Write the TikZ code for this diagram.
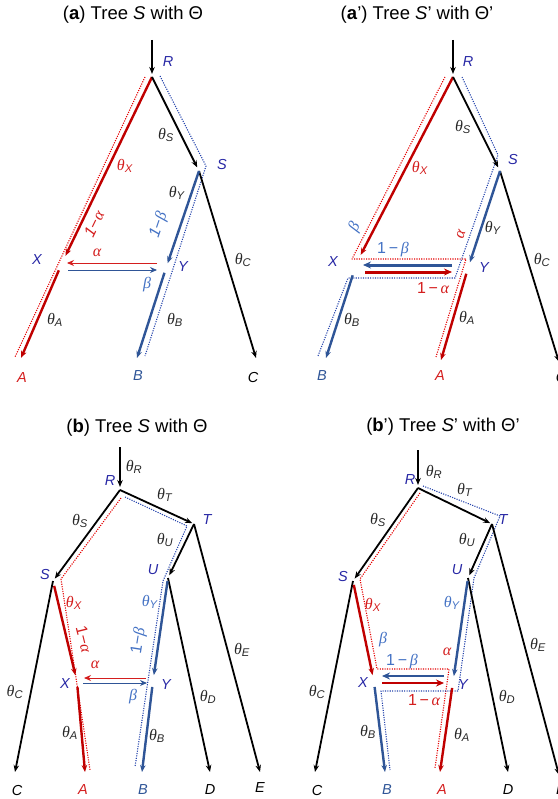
\documentclass[tikz,border=0pt]{standalone}
\usepackage{fontspec}
\setmainfont{Liberation Sans}
\newfontfamily\greekfont{Liberation Serif}
\usetikzlibrary{arrows.meta}
\definecolor{TreeRed}{RGB}{192,0,0}
\definecolor{TreeBlue}{RGB}{47,85,151}
\definecolor{NameBlue}{RGB}{40,40,165}
\definecolor{ParBlue}{RGB}{68,114,196}
\definecolor{ParRed}{RGB}{212,30,30}
\definecolor{TextGray}{RGB}{40,40,40}
\newcommand{\gk}[1]{{\greekfont\itshape #1}}
\newcommand{\thsub}[1]{\gk{θ}\textsubscript{\textit{#1}}}

\begin{document}
\begin{tikzpicture}[x=1pt, y=-1pt, font=\fontsize{16}{18}\selectfont]
    \tikzset{
        branch/.style={line width=1.8pt, -{Stealth[length=7pt,width=5.5pt]}},
        redbranch/.style={branch, TreeRed, line width=2.4pt},
        bluebranch/.style={branch, TreeBlue, line width=2.4pt},
        redpath/.style={red!90!black, line width=1.1pt, line join=round,
            dash pattern=on 1.1pt off 1.3pt},
        bluepath/.style={TreeBlue!80!blue, line width=1.1pt, line join=round,
            dash pattern=on 1.1pt off 1.3pt},
        flow/.style={line width=0.9pt, -{Stealth[length=7pt,width=6pt]}},
        bigflow/.style={line width=3pt, -{Stealth[length=8pt,width=7pt]}},
        heading/.style={font=\fontsize{18.5}{20}\selectfont},
        taxon/.style={font=\fontsize{14.5}{16}\selectfont\itshape, text=NameBlue},
        param/.style={text=TextGray, inner sep=1pt}
    }
    \useasboundingbox (0,0) rectangle (557,799);

    \coordinate (aR0) at (152,40);
    \coordinate (aR) at (152,77);
    \coordinate (aS) at (199,171);
    \coordinate (aX) at (62,263);
    \coordinate (aY) at (166,268);
    \coordinate (aA) at (21,358);
    \coordinate (aB) at (137,358);
    \coordinate (aC) at (256,358);
    \coordinate (aRd1) at (145,77);
    \coordinate (aRd2) at (15,357);
    \coordinate (aBd1) at (160,76);
    \coordinate (aBd2) at (206,166);
    \coordinate (aBd3) at (145,356);
    \coordinate (aF1) at (157,263);
    \coordinate (aF2) at (67,263);
    \coordinate (aF3) at (68,270);
    \coordinate (aF4) at (157,270);
    \draw[redpath] (aRd1) -- (aRd2);
    \draw[bluepath] (aBd1) -- (aBd2) -- (aBd3);
    \draw[branch, shorten >=3pt] (aR0) -- (aR);
    \draw[redbranch, shorten >=8pt] (aR) -- (aX);
    \draw[redbranch, shorten <=8pt] (aX) -- (aA);
    \draw[branch, shorten >=4pt] (aR) -- (aS);
    \draw[branch] (aS) -- (aC);
    \draw[bluebranch, shorten >=5pt] (aS) -- (aY);
    \draw[bluebranch, shorten <=5pt] (aY) -- (aB);
    \draw[flow, ParRed] (aF1) -- (aF2);
    \draw[flow, TreeBlue] (aF3) -- (aF4);
    \node[heading] (atitle) at (133,15) {(\textbf{a}) Tree \textit{S} with Θ};
    \node[taxon] (aRn) at (168,62) {R};
    \node[taxon] (aSn) at (222,165) {S};
    \node[taxon] (aXn) at (37,260) {X};
    \node[taxon] (aYn) at (183,267) {Y};
    \node[taxon, text=ParRed] (aAn) at (22,378) {A};
    \node[taxon, text=TreeBlue] (aBn) at (138,376) {B};
    \node[taxon, text=black] (aCn) at (253,378) {C};
    \node[param] (athS) at (166,135) {\thsub{S}};
    \node[param, text=ParRed] (athX) at (125,166) {\thsub{X}};
    \node[param] (athY) at (177,193) {\thsub{Y}};
    \node[param] (athC) at (243,260) {\thsub{C}};
    \node[param] (athA) at (55,320) {\thsub{A}};
    \node[param] (athB) at (175,320) {\thsub{B}};
    \node[text=ParRed, rotate=64, inner sep=0pt] (aalf1) at (94,224) {\textit{1}−\gk{α}};
    \node[text=ParBlue, rotate=71, inner sep=0pt] (abet1) at (159,225) {\textit{1}−\gk{β}};
    \node[text=ParRed] (aalf) at (97,253) {\gk{α}};
    \node[text=ParBlue] (abet) at (147,285) {\gk{β}};

    \coordinate (pR0) at (453,40);
    \coordinate (pR) at (453,77);
    \coordinate (pS) at (500,171);
    \coordinate (pX) at (357,262);
    \coordinate (pY) at (468,268);
    \coordinate (pB) at (326,358);
    \coordinate (pA) at (441,360);
    \coordinate (pC) at (559,362);
    \coordinate (pRd1) at (445,77);
    \coordinate (pRd2) at (352,259);
    \coordinate (pRd3) at (466,259);
    \coordinate (pRd4) at (436,357);
    \coordinate (pBd1) at (462,77);
    \coordinate (pBd2) at (498,155);
    \coordinate (pBd3) at (455,278);
    \coordinate (pBd4) at (348,278);
    \coordinate (pBd5) at (318,356);
    \coordinate (pF1) at (452,265);
    \coordinate (pF2) at (363,265);
    \coordinate (pF3) at (365,272);
    \coordinate (pF4) at (452,272);
    \draw[redpath] (pRd1) -- (pRd2) -- (pRd3) -- (pRd4);
    \draw[bluepath] (pBd1) -- (pBd2) -- (pBd3) -- (pBd4) -- (pBd5);
    \draw[branch, shorten >=3pt] (pR0) -- (pR);
    \draw[redbranch, shorten >=8pt] (pR) -- (pX);
    \draw[bluebranch, shorten <=14pt] (pX) -- (pB);
    \draw[branch, shorten >=4pt] (pR) -- (pS);
    \draw[branch] (pS) -- (pC);
    \draw[bluebranch, shorten >=6pt] (pS) -- (pY);
    \draw[redbranch, shorten <=6pt] (pY) -- (pA);
    \draw[bigflow, TreeBlue] (pF1) -- (pF2);
    \draw[bigflow, TreeRed] (pF3) -- (pF4);
    \node[heading] (ptitle) at (417,15) {(\textbf{a}') Tree \textit{S}' with Θ'};
    \node[taxon] (pRn) at (468,62) {R};
    \node[taxon] (pSn) at (513,160) {S};
    \node[taxon] (pXn) at (333,262) {X};
    \node[taxon] (pYn) at (484,268) {Y};
    \node[taxon, text=TreeBlue] (pBn) at (322,376) {B};
    \node[taxon, text=ParRed] (pAn) at (440,376) {A};
    \node[taxon, text=black] (pCn) at (561,378) {C};
    \node[param] (pthS) at (463,127) {\thsub{S}};
    \node[param, text=ParRed] (pthX) at (420,168) {\thsub{X}};
    \node[param] (pthY) at (493,228) {\thsub{Y}};
    \node[param] (pthC) at (542,260) {\thsub{C}};
    \node[param] (pthB) at (352,320) {\thsub{B}};
    \node[param] (pthA) at (467,318) {\thsub{A}};
    \node[text=ParBlue, rotate=63, inner sep=0pt] (pbet) at (355,227) {\gk{β}};
    \node[text=ParRed, rotate=72, inner sep=0pt] (palf) at (461,234) {\gk{α}};
    \node[text=ParBlue] (pbet1) at (393,250) {1\,−\,\gk{β}};
    \node[text=ParRed] (palf1) at (433,288) {1\,−\,\gk{α}};

    \coordinate (bR0) at (120,447);
    \coordinate (bR) at (120,490);
    \coordinate (bT) at (194,524);
    \coordinate (bS) at (53,581);
    \coordinate (bU) at (168,578);
    \coordinate (bX) at (77,682);
    \coordinate (bY) at (153,681);
    \coordinate (bC) at (15,772);
    \coordinate (bA) at (85,772);
    \coordinate (bB) at (142,772);
    \coordinate (bD) at (210,772);
    \coordinate (bE) at (260,772);
    \coordinate (bRd1) at (121,498);
    \coordinate (bRd2) at (61,579);
    \coordinate (bRd3) at (90,770);
    \coordinate (bBd1) at (125,497);
    \coordinate (bBd2) at (187,526);
    \coordinate (bBd3) at (163,581);
    \coordinate (bBd4) at (135,767);
    \coordinate (bF1) at (146,678);
    \coordinate (bF2) at (84,678);
    \coordinate (bF3) at (83,683);
    \coordinate (bF4) at (147,683);
    \draw[redpath] (bRd1) -- (bRd2) -- (bRd3);
    \draw[bluepath] (bBd1) -- (bBd2) -- (bBd3) -- (bBd4);
    \draw[branch, shorten >=3pt] (bR0) -- (bR);
    \draw[branch, shorten >=2pt] (bR) -- (bT);
    \draw[branch, shorten >=3pt] (bR) -- (bS);
    \draw[branch, shorten >=3pt] (bT) -- (bU);
    \draw[branch] (bT) -- (bE);
    \draw[branch] (bU) -- (bD);
    \draw[branch] (bS) -- (bC);
    \draw[redbranch, shorten <=5pt, shorten >=7pt] (bS) -- (bX);
    \draw[redbranch, shorten <=5pt] (bX) -- (bA);
    \draw[bluebranch, shorten <=3pt, shorten >=6pt] (bU) -- (bY);
    \draw[bluebranch, shorten <=6pt] (bY) -- (bB);
    \draw[flow, ParRed] (bF1) -- (bF2);
    \draw[flow, TreeBlue] (bF3) -- (bF4);
    \node[heading] (btitle) at (137,428) {(\textbf{b}) Tree \textit{S} with Θ};
    \node[param] (bthR) at (134,467) {\thsub{R}};
    \node[taxon] (bRn) at (110,481) {R};
    \node[param] (bthT) at (165,495) {\thsub{T}};
    \node[taxon] (bTn) at (207,520) {T};
    \node[param] (bthS) at (80,521) {\thsub{S}};
    \node[taxon] (bSn) at (45,575) {S};
    \node[param] (bthU) at (165,540) {\thsub{U}};
    \node[taxon] (bUn) at (153,570) {U};
    \node[param, text=ParRed] (bthX) at (74,603) {\thsub{X}};
    \node[text=ParRed, rotate=-76, inner sep=0pt] (balf1) at (84,639) {1−\gk{α}};
    \node[param, text=ParBlue] (bthY) at (150,602) {\thsub{Y}};
    \node[text=ParBlue, rotate=81, inner sep=0pt] (bbet1) at (139,641) {1−\gk{β}};
    \node[param] (bthE) at (242,650) {\thsub{E}};
    \node[param] (bthC) at (15,692) {\thsub{C}};
    \node[param] (bthD) at (208,697) {\thsub{D}};
    \node[taxon] (bXn) at (65,684) {X};
    \node[taxon] (bYn) at (166,685) {Y};
    \node[text=ParRed] (balf) at (95,665) {\gk{α}};
    \node[text=ParBlue] (bbet) at (133,697) {\gk{β}};
    \node[param] (bthA) at (70,733) {\thsub{A}};
    \node[param] (bthB) at (157,736) {\thsub{B}};
    \node[taxon, text=black] (bCn) at (17,790) {C};
    \node[taxon, text=ParRed] (bAn) at (83,790) {A};
    \node[taxon, text=TreeBlue] (bBn) at (143,790) {B};
    \node[taxon, text=black] (bDn) at (210,790) {D};
    \node[taxon, text=black] (bEn) at (260,788) {E};

    \coordinate (qR0) at (418,450);
    \coordinate (qR) at (418,488);
    \coordinate (qT) at (492,524);
    \coordinate (qS) at (353,581);
    \coordinate (qU) at (468,578);
    \coordinate (qX) at (374,682);
    \coordinate (qY) at (453,682);
    \coordinate (qC) at (315,772);
    \coordinate (qB) at (385,772);
    \coordinate (qA) at (440,772);
    \coordinate (qD) at (508,772);
    \coordinate (qE) at (559,775);
    \coordinate (qRd1) at (420,493);
    \coordinate (qRd2) at (360,579);
    \coordinate (qRd3) at (377,669);
    \coordinate (qRd4) at (449,669);
    \coordinate (qRd5) at (435,768);
    \coordinate (qBd1) at (423,486);
    \coordinate (qBd2) at (500,516);
    \coordinate (qBd3) at (474,578);
    \coordinate (qBd4) at (458,691);
    \coordinate (qBd5) at (381,691);
    \coordinate (qBd6) at (390,770);
    \coordinate (qF1) at (444,676);
    \coordinate (qF2) at (382,676);
    \coordinate (qF3) at (382,683);
    \coordinate (qF4) at (444,683);
    \draw[redpath] (qRd1) -- (qRd2) -- (qRd3) -- (qRd4) -- (qRd5);
    \draw[bluepath] (qBd1) -- (qBd2) -- (qBd3) -- (qBd4) -- (qBd5) -- (qBd6);
    \draw[branch, shorten >=3pt] (qR0) -- (qR);
    \draw[branch, shorten >=2pt] (qR) -- (qT);
    \draw[branch, shorten >=3pt] (qR) -- (qS);
    \draw[branch, shorten >=3pt] (qT) -- (qU);
    \draw[branch] (qT) -- (qE);
    \draw[branch] (qU) -- (qD);
    \draw[branch] (qS) -- (qC);
    \draw[redbranch, shorten <=4pt, shorten >=7pt] (qS) -- (qX);
    \draw[bluebranch, shorten <=5pt] (qX) -- (qB);
    \draw[bluebranch, shorten <=3pt, shorten >=6pt] (qU) -- (qY);
    \draw[redbranch, shorten <=6pt] (qY) -- (qA);
    \draw[bigflow, TreeBlue, line width=2.7pt] (qF1) -- (qF2);
    \draw[bigflow, TreeRed, line width=2.7pt] (qF3) -- (qF4);
    \node[heading] (qtitle) at (443,427) {(\textbf{b}') Tree \textit{S}' with Θ'};
    \node[param] (qthR) at (434,472) {\thsub{R}};
    \node[taxon] (qRn) at (410,480) {R};
    \node[param] (qthT) at (465,490) {\thsub{T}};
    \node[taxon] (qTn) at (503,520) {T};
    \node[param] (qthS) at (378,520) {\thsub{S}};
    \node[taxon] (qSn) at (343,577) {S};
    \node[param] (qthU) at (467,540) {\thsub{U}};
    \node[taxon] (qUn) at (457,570) {U};
    \node[param, text=ParRed] (qthX) at (373,605) {\thsub{X}};
    \node[param, text=ParBlue] (qthY) at (452,603) {\thsub{Y}};
    \node[text=ParBlue] (qbet) at (383,640) {\gk{β}};
    \node[text=ParRed] (qalf) at (447,652) {\gk{α}};
    \node[text=ParBlue] (qbet1) at (402,662) {1\,−\,\gk{β}};
    \node[taxon] (qXn) at (363,683) {X};
    \node[taxon] (qYn) at (463,685) {Y};
    \node[text=ParRed] (qalf1) at (424,700) {1\,−\,\gk{α}};
    \node[param] (qthC) at (317,692) {\thsub{C}};
    \node[param] (qthD) at (507,697) {\thsub{D}};
    \node[param] (qthE) at (538,645) {\thsub{E}};
    \node[param] (qthB) at (368,732) {\thsub{B}};
    \node[param] (qthA) at (462,735) {\thsub{A}};
    \node[taxon, text=black] (qCn) at (317,790) {C};
    \node[taxon, text=TreeBlue] (qBn) at (387,790) {B};
    \node[taxon, text=ParRed] (qAn) at (442,790) {A};
    \node[taxon, text=black] (qDn) at (508,790) {D};
    \node[taxon, text=black] (qEn) at (561,790) {E};
\end{tikzpicture}
\end{document}
